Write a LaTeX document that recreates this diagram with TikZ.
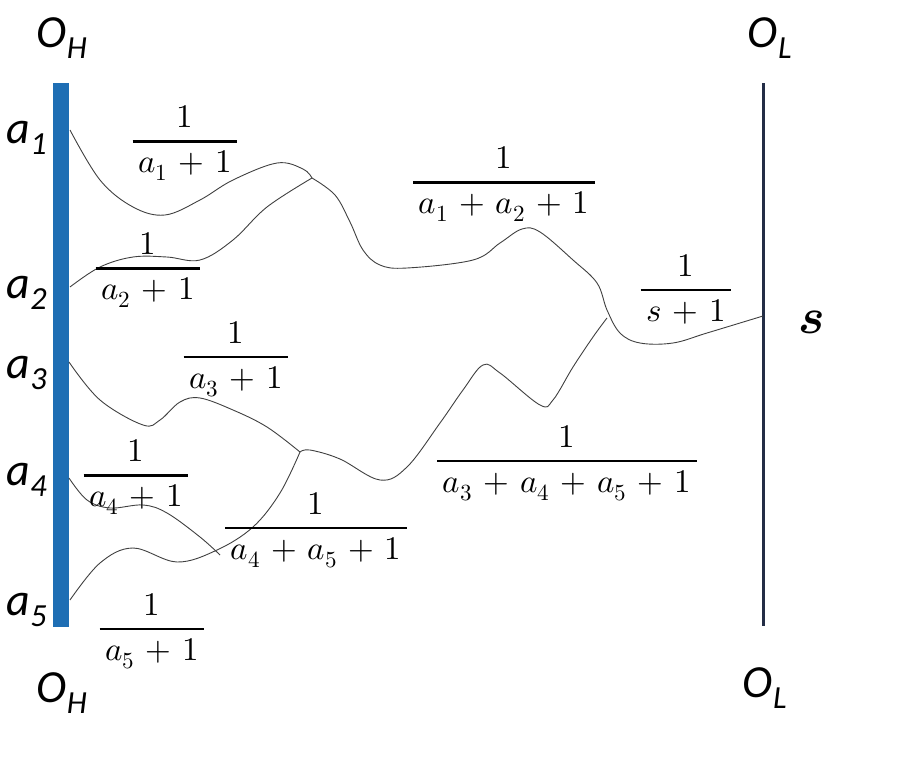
\documentclass[tikz,border=0pt]{standalone}
\usepackage{amsmath}
\usepackage{fontspec}
\usepackage{unicode-math}
\newfontfamily\labelfont{Carlito}
\usetikzlibrary{positioning}
\definecolor{barblue}{RGB}{30,110,180}
\definecolor{linenavy}{RGB}{35,45,70}
\newcommand{\wfrac}[1]{\genfrac{}{}{2.4pt}{0}{1}{\,#1\,}}
\begin{document}
\begin{tikzpicture}[
    x=1pt, y=-1pt,
    lbl/.style={inner sep=0pt, font={\fontsize{46}{46}\selectfont\labelfont\itshape}},
    frac/.style={inner sep=0pt, font={\fontsize{33}{38}\selectfont\medmuskip=6mu}},
    wire/.style={draw=black!75, line width=0.9pt},
    hbar/.style={draw=barblue, line width=16pt},
    lbar/.style={draw=linenavy, line width=3pt}
  ]
  \useasboundingbox (0,0) rectangle (911,771);

  % the two sides
  \node[lbl] (ohtop) at (62,38) {O\textsubscript{H}};
  \node[lbl] (ohbot) at (62,693) {O\textsubscript{H}};
  \node[lbl] (oltop) at (770,38) {O\textsubscript{L}};
  \node[lbl] (olbot) at (765,688) {O\textsubscript{L}};
  \coordinate (hightop) at (61,83);
  \coordinate (highbot) at (61,627);
  \coordinate (lowtop) at (763,83);
  \coordinate (lowbot) at (763,626);
  \draw[hbar] (hightop) -- (highbot);
  \draw[lbar] (lowtop) -- (lowbot);

  % leaves
  \node[lbl] (a1) at (27,138) {a\textsubscript{1}};
  \node[lbl] (a2) at (27,293) {a\textsubscript{2}};
  \node[lbl] (a3) at (27,373) {a\textsubscript{3}};
  \node[lbl] (a4) at (27,480) {a\textsubscript{4}};
  \node[lbl] (a5) at (27,610) {a\textsubscript{5}};
  \node[font={\fontsize{50}{50}\selectfont}, inner sep=0pt] (s) at (812,322) {$\symbfit{s}$};

  \coordinate (s1) at (70,130);
  \coordinate (s2) at (70,287);
  \coordinate (s3) at (69,362);
  \coordinate (s4) at (69,478);
  \coordinate (s5) at (70,600);
  \coordinate (m12) at (312,178);
  \coordinate (m35) at (300,452);
  \coordinate (e4) at (220,555);
  \coordinate (m) at (607,318);
  \coordinate (root) at (763,316);

  % branches
  \draw[wire] plot[smooth, tension=0.6] coordinates {(s1) (100,180) (133,207) (165,215)
    (200,200) (233,180) (277,163) (303,169) (m12)};
  \draw[wire] plot[smooth, tension=0.6] coordinates {(s2) (100,267) (133,257) (167,257)
    (200,260) (233,240) (267,207) (m12)};
  \draw[wire] plot[smooth, tension=0.6] coordinates {(s3) (100,400) (143,425) (160,420)
    (180,402) (200,398) (233,410) (267,427) (m35)};
  \draw[wire] plot[smooth, tension=0.6] coordinates {(s4) (87,500) (110,508) (143,505)
    (167,513) (200,537) (e4)};
  \draw[wire] plot[smooth, tension=0.6] coordinates {(s5) (100,563) (133,548) (177,562)
    (217,550) (253,527) (280,493) (m35)};
  \draw[wire] plot[smooth, tension=0.6] coordinates {(m12) (335,195) (350,222) (363,250)
    (380,265) (407,268) (473,260) (500,243) (522,229) (540,232) (573,260) (597,283)
    (607,310) (620,333) (640,343) (673,343) (707,333) (root)};
  \draw[wire] plot[smooth, tension=0.6] coordinates {(m35) (310,450) (340,459) (380,480)
    (407,467) (440,423) (463,390) (483,365) (500,373) (540,405) (553,400) (573,367)
    (593,337) (m)};

  % weights
  \node[frac] (w1) at (185,143) {$\wfrac{a_1+1}$};
  \node[frac] (w2) at (148,270) {$\wfrac{a_2+1}$};
  \node[frac] (w3) at (236,359) {$\wfrac{a_3+1}$};
  \node[frac] (w4) at (136,477) {$\wfrac{a_4+1}$};
  \node[frac] (w5) at (152,631) {$\wfrac{a_5+1}$};
  \node[frac] (w45) at (316,530) {$\wfrac{a_4+a_5+1}$};
  \node[frac] (w12) at (504,184) {$\wfrac{a_1+a_2+1}$};
  \node[frac] (w345) at (567,463) {$\wfrac{a_3+a_4+a_5+1}$};
  \node[frac] (ws) at (686,289) {$\wfrac{s+1}$};
\end{tikzpicture}
\end{document}
